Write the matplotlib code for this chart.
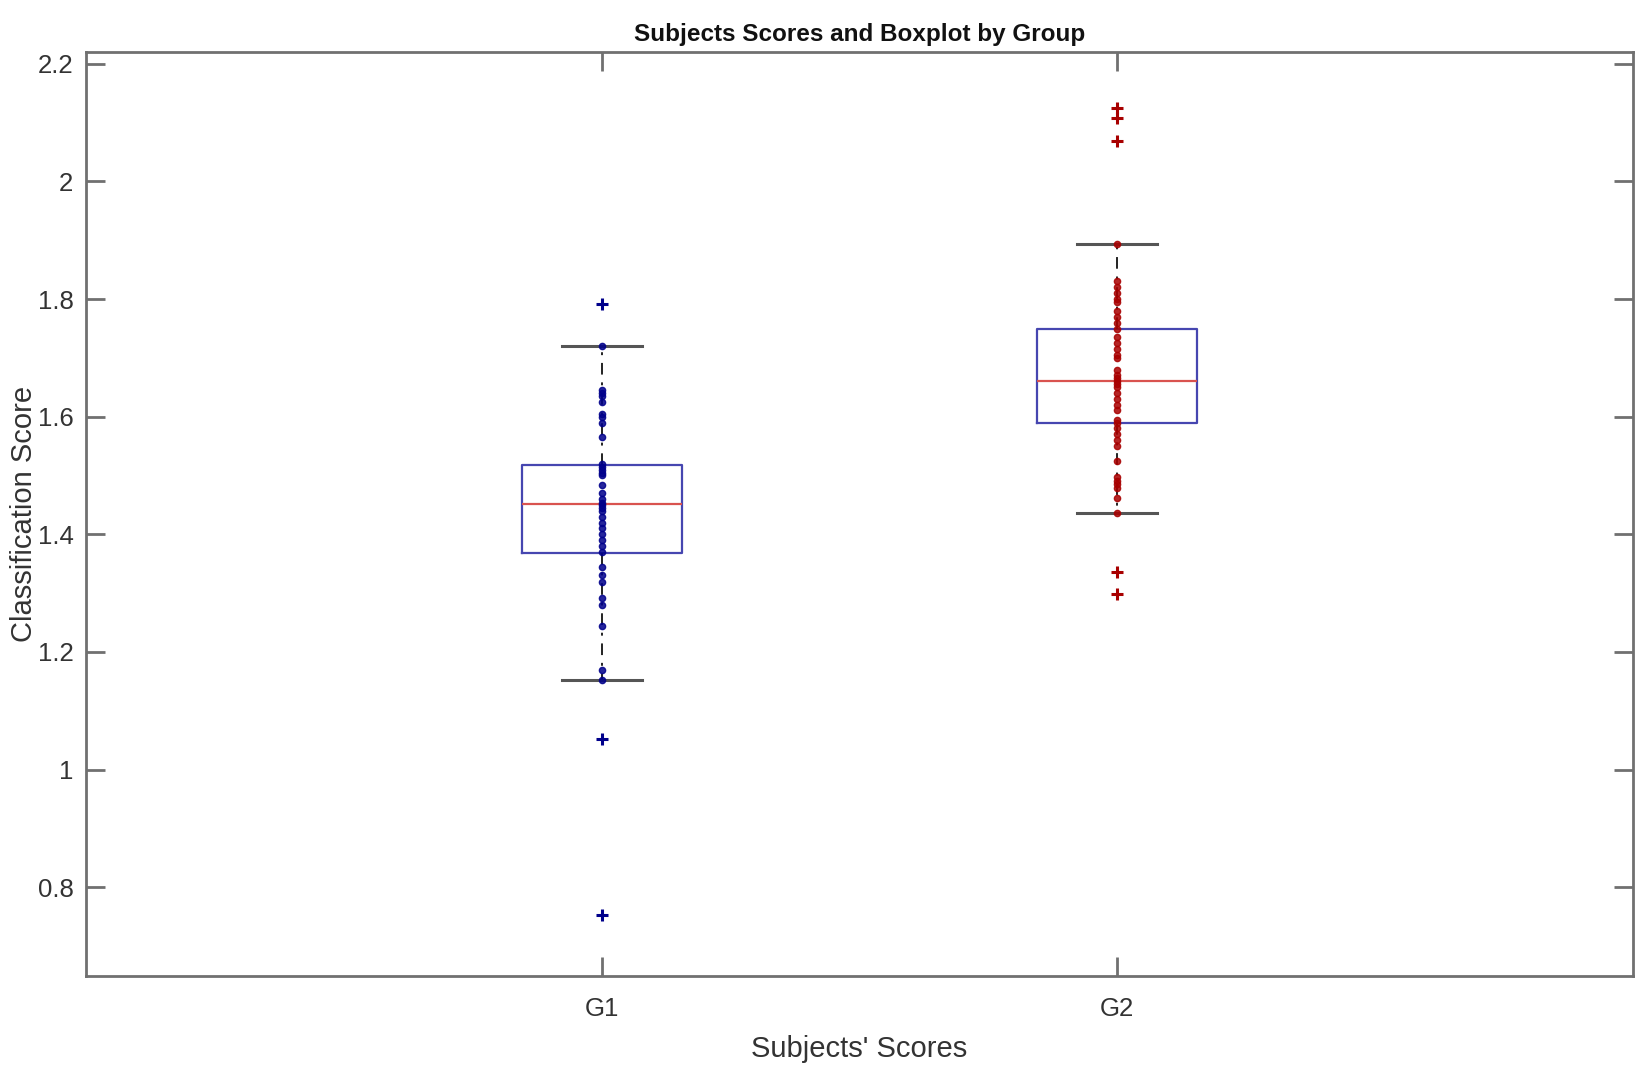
import matplotlib
matplotlib.use("Agg")
import matplotlib.pyplot as plt
from matplotlib import font_manager

# ---------------- data ----------------
groups = ["G1", "G2"]
positions = [1, 2]

g1_scores = [1.792, 1.720, 1.645, 1.640, 1.635, 1.625, 1.605, 1.600, 1.590,
             1.566, 1.520, 1.515, 1.510, 1.505, 1.500, 1.484, 1.470, 1.460,
             1.453, 1.450, 1.445, 1.440, 1.430, 1.420, 1.410, 1.400, 1.390,
             1.380, 1.370, 1.345, 1.331, 1.319, 1.292, 1.280, 1.244, 1.169,
             1.152, 1.052, 0.752]
g2_scores = [2.124, 2.108, 2.069, 1.894, 1.830, 1.820, 1.810, 1.800, 1.795,
             1.780, 1.770, 1.760, 1.749, 1.735, 1.725, 1.715, 1.705, 1.700,
             1.680, 1.670, 1.665, 1.660, 1.655, 1.650, 1.640, 1.630, 1.620,
             1.612, 1.595, 1.590, 1.580, 1.570, 1.560, 1.550, 1.525, 1.498,
             1.490, 1.485, 1.479, 1.462, 1.436, 1.336, 1.299]

# box statistics
medians = [1.452, 1.660]
q1s = [1.368, 1.589]
q3s = [1.518, 1.749]
whisker_lo = [1.152, 1.436]
whisker_hi = [1.720, 1.894]
fliers = [[1.792, 1.052, 0.752], [2.124, 2.108, 2.069, 1.336, 1.299]]

point_colors = ["#00008B", "#A80000"]

# ---------------- figure ----------------
avail = {f.name for f in font_manager.fontManager.ttflist}
base_font = "Liberation Sans" if "Liberation Sans" in avail else "DejaVu Sans"
title_font = "Liberation Sans Narrow" if "Liberation Sans Narrow" in avail else base_font
plt.rcParams["font.family"] = [base_font, "DejaVu Sans"]

fig = plt.figure(figsize=(16.5, 10.84), dpi=100)
ax = fig.add_axes([86 / 1650, 1 - 976 / 1084, (1633 - 86) / 1650, (976 - 52) / 1084])

stats = []
for i in range(len(groups)):
    stats.append(dict(med=medians[i], q1=q1s[i], q3=q3s[i],
                      whislo=whisker_lo[i], whishi=whisker_hi[i],
                      fliers=[], label=groups[i]))

ax.bxp(stats, positions=positions, widths=0.31,
       boxprops=dict(color="#4646b0", linewidth=1.6),
       medianprops=dict(color="#d9534f", linewidth=1.6),
       whiskerprops=dict(color="#222222", linewidth=1.4, linestyle=(0, (6, 4, 1.5, 4))),
       capprops=dict(color="#555555", linewidth=2.2),
       showfliers=False, zorder=2)

# subject scores as dots
for i, vals in enumerate([g1_scores, g2_scores]):
    inner = [v for v in vals if v not in fliers[i]]
    ax.plot([positions[i]] * len(inner), inner, linestyle="none", marker="o",
            markersize=4.5, color=point_colors[i], alpha=0.85, zorder=3)
    ax.plot([positions[i]] * len(fliers[i]), fliers[i], linestyle="none",
            marker="+", markersize=8, color=point_colors[i], zorder=4,
            markeredgewidth=2.2)

ax.set_xlim(0, 3)
ax.set_ylim(0.649, 2.22)
ax.set_xticks(positions)
ax.set_xticklabels(groups)
ax.set_yticks([0.8, 1.0, 1.2, 1.4, 1.6, 1.8, 2.0, 2.2])
ax.set_yticklabels(["0.8", "1", "1.2", "1.4", "1.6", "1.8", "2", "2.2"])

for s in ax.spines.values():
    s.set_color("#707070")
    s.set_linewidth(2.0)

ax.tick_params(axis="both", direction="in", length=14, width=2.0, color="#707070",
               labelsize=18.5, labelcolor="#333333", top=True, right=True, pad=9)
ax.tick_params(axis="x", pad=15)

ax.set_title("Subjects Scores and Boxplot by Group", fontsize=17.5, fontweight="bold",
             family=[title_font, "DejaVu Sans"], color="#111111", pad=8)
ax.set_xlabel("Subjects' Scores", fontsize=21, color="#333333", labelpad=10)
ax.set_ylabel("Classification Score", fontsize=21, color="#333333",
              va="center", ha="center")
ax.yaxis.set_label_coords(-0.040, 0.5)

fig.savefig("out.png", dpi=100, facecolor="white")
